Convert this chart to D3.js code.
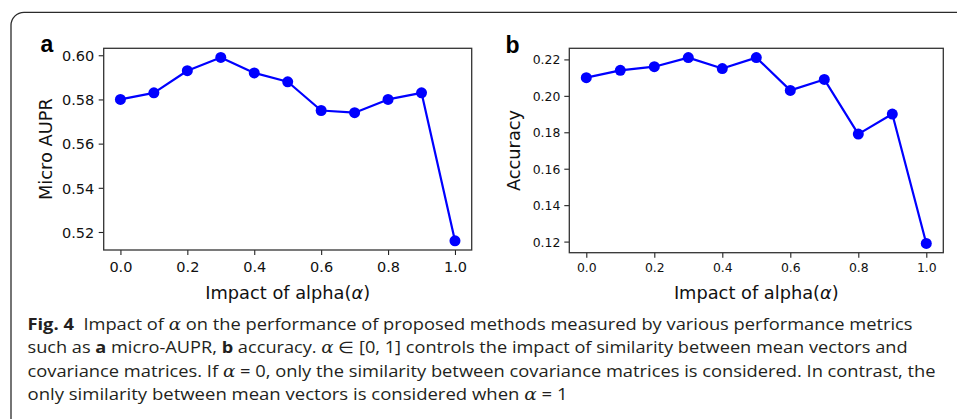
<!DOCTYPE html>
<html><head><meta charset="utf-8">
<script src="https://cdn.jsdelivr.net/npm/d3@7"></script>
<style>
html,body{margin:0;padding:0;background:#fff;}
svg{display:block;}
</style></head>
<body>
<svg id="chart" width="957" height="419"></svg>
<script>
const alphas = [0.0, 0.1, 0.2, 0.3, 0.4, 0.5, 0.6, 0.7, 0.8, 0.9, 1.0];
const microAUPR = [0.580, 0.583, 0.593, 0.599, 0.592, 0.588, 0.575, 0.574, 0.580, 0.583, 0.516];
const accuracy = [0.210, 0.214, 0.216, 0.221, 0.215, 0.221, 0.203, 0.209, 0.179, 0.190, 0.119];
const xTicks = [0.0, 0.2, 0.4, 0.6, 0.8, 1.0];
const yTicksA = [0.52, 0.54, 0.56, 0.58, 0.60];
const yTicksB = [0.12, 0.14, 0.16, 0.18, 0.20, 0.22];
const xLabel = "Impact of alpha(";
const yLabelA = "Micro AUPR";
const yLabelB = "Accuracy";

const captionLines = [
  [["b","Fig. 4"],["n","  Impact of "],["i","α"],["n"," on the performance of proposed methods measured by various performance metrics"]],
  [["n","such as "],["b","a"],["n"," micro-AUPR, "],["b","b"],["n"," accuracy. "],["i","α"],["n"," ∈ [0, 1] controls the impact of similarity between mean vectors and"]],
  [["n","covariance matrices. If "],["i","α"],["n"," = 0, only the similarity between covariance matrices is considered. In contrast, the"]],
  [["n","only similarity between mean vectors is considered when "],["i","α"],["n"," = 1"]]
];

const svg = d3.select("#chart");

// outer rounded frame
svg.append("rect")
  .attr("x", 11).attr("y", 12.3).attr("width", 980).attr("height", 450)
  .attr("rx", 13).attr("ry", 13)
  .attr("fill", "none").attr("stroke", "#2b2b2b").attr("stroke-width", 1.3);

function extent5(vals){
  const mn = d3.min(vals), mx = d3.max(vals), m = (mx-mn)*0.05;
  return [mn-m, mx+m];
}

function panel(cfg){
  const x = d3.scaleLinear().domain(extent5(alphas)).range([cfg.left, cfg.right]);
  const y = d3.scaleLinear().domain(extent5(cfg.values)).range([cfg.bottom, cfg.top]);
  const g = svg.append("g");

  // x axis
  const xa = g.append("g").attr("transform", `translate(0,${cfg.bottom})`)
    .call(d3.axisBottom(x).tickValues(xTicks).tickFormat(d3.format(".1f")).tickSize(5).tickPadding(0).tickSizeOuter(0));
  xa.select(".domain").remove();
  xa.selectAll(".tick line").attr("stroke", "#222").attr("stroke-width", 1.1);
  xa.selectAll(".tick text").attr("y", cfg.xTickBaseline - cfg.bottom).attr("dy", null)
    .attr("font-family", "DejaVu Sans").attr("font-size", cfg.tickFont).attr("fill", "#111");

  // y axis
  const ya = g.append("g").attr("transform", `translate(${cfg.left},0)`)
    .call(d3.axisLeft(y).tickValues(cfg.yTicks).tickFormat(d3.format(".2f")).tickSize(5).tickPadding(cfg.yPad).tickSizeOuter(0));
  ya.select(".domain").remove();
  ya.selectAll(".tick line").attr("stroke", "#222").attr("stroke-width", 1.1);
  ya.selectAll(".tick text").attr("dy", "0.36em")
    .attr("font-family", "DejaVu Sans").attr("font-size", cfg.tickFont).attr("fill", "#111");

  // frame
  g.append("rect").attr("x", cfg.left).attr("y", cfg.top)
    .attr("width", cfg.right-cfg.left).attr("height", cfg.bottom-cfg.top)
    .attr("fill", "none").attr("stroke", "#333").attr("stroke-width", 1.3);

  // line
  const line = d3.line().x((d,i)=>x(alphas[i])).y(d=>y(d));
  g.append("path").datum(cfg.values).attr("d", line)
    .attr("fill", "none").attr("stroke", "#0000ff").attr("stroke-width", 2.2).attr("stroke-linejoin","round");
  g.selectAll("circle.pt").data(cfg.values).join("circle").attr("class","pt")
    .attr("cx", (d,i)=>x(alphas[i])).attr("cy", d=>y(d)).attr("r", 5.5).attr("fill", "#0000ff");

  // x label
  const xl = g.append("text").attr("x", (cfg.left+cfg.right)/2).attr("y", 298.8)
    .attr("text-anchor","middle").attr("font-family","DejaVu Sans").attr("font-size", 17.8).attr("fill","#111");
  xl.append("tspan").text(xLabel);
  xl.append("tspan").attr("font-style","italic").text("α");
  xl.append("tspan").text(")");

  // y label
  g.append("text").attr("transform", `translate(${cfg.yLabelX},${(cfg.top+cfg.bottom)/2}) rotate(-90)`)
    .attr("text-anchor","middle").attr("font-family","DejaVu Sans").attr("font-size", 17.8).attr("fill","#111")
    .text(cfg.yLabel);

  // panel letter
  g.append("text").attr("x", cfg.letterX).attr("y", cfg.letterY)
    .attr("font-family","Liberation Sans, Arial, sans-serif").attr("font-weight","bold").attr("font-size", 23).attr("fill","#000")
    .text(cfg.letter);
}

panel({values: microAUPR, yTicks: yTicksA, left: 103.7, right: 471.7, top: 48.3, bottom: 250,
  tickFont: 14.5, yPad: 4.5, xTickBaseline: 272, yLabel: yLabelA, yLabelX: 52, letter: "a", letterX: 40.5, letterY: 52.3});
panel({values: accuracy, yTicks: yTicksB, left: 569.3, right: 943.3, top: 48.3, bottom: 252.7,
  tickFont: 12.4, yPad: 4, xTickBaseline: 271.7, yLabel: yLabelB, yLabelX: 519.7, letter: "b", letterX: 505.5, letterY: 53.3});

// caption
const capX = 27.5, capY0 = 329.5, capDy = 23.5;
const capWidths = [885, 880, 908, 540];
captionLines.forEach((segs, li) => {
  const t = svg.append("text").attr("x", capX).attr("y", capY0 + li*capDy)
    .attr("font-family","Open Sans, Noto Sans, sans-serif").attr("font-size", 16).attr("fill","#231f20")
    .attr("textLength", capWidths[li]).attr("lengthAdjust","spacingAndGlyphs")
    .attr("xml:space","preserve").style("white-space","pre");
  segs.forEach(([k, s]) => {
    const ts = t.append("tspan").text(s);
    if (k === "b") ts.attr("font-weight","bold");
    if (k === "i") ts.attr("font-style","italic").attr("font-family","DejaVu Serif, serif");
  });
});
</script>
</body></html>
